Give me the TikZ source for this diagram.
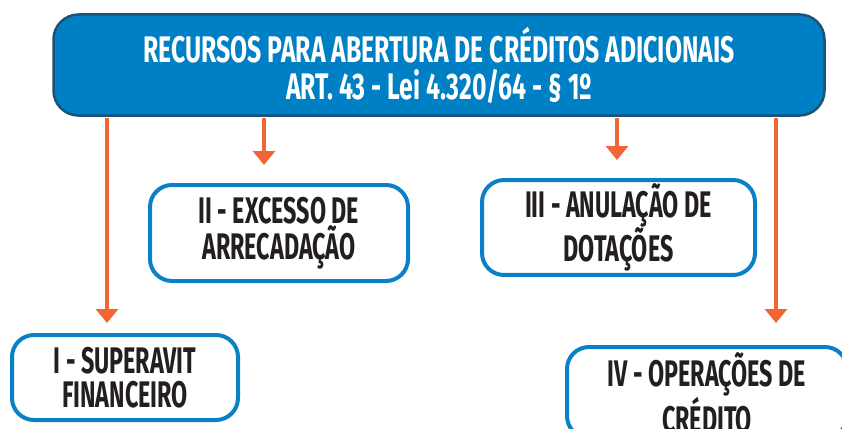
\documentclass[tikz,border=0pt]{standalone}
\usepackage{fontspec}
\newfontfamily\condfont[FakeStretch=0.63]{Fira Sans}
\newfontfamily\titlefont[FakeStretch=0.67]{Fira Sans}
\usepackage{tikz}
\usetikzlibrary{arrows.meta}
\definecolor{titleblue}{HTML}{0080C4}
\definecolor{titleborder}{HTML}{1B5275}
\definecolor{itemborder}{HTML}{0A80C6}
\definecolor{itemtext}{HTML}{231F20}
\definecolor{arroworange}{HTML}{F26535}

\begin{document}
\begin{tikzpicture}[->,>={Triangle[width=22pt,length=14pt]},node distance=165pt,
    font=\condfont\bfseries\fontsize{37}{34}\selectfont]
      \tikzstyle{arrow line} = [draw=arroworange, line width=3.5pt, shorten <=1.2pt]
      \tikzstyle{title box} = [rectangle, rounded corners=25pt, draw=titleborder, line width=2.5pt,
         fill=titleblue, text=white, minimum width=771pt, minimum height=101pt, align=center,
         font=\titlefont\bfseries\fontsize{37}{37}\selectfont]
      \tikzstyle{item box} = [rectangle, rounded corners=22pt, draw=itemborder, line width=4pt,
         fill=white, text=itemtext, align=center]
      \useasboundingbox (0,0) rectangle (842pt,-428pt);
      \clip (0,0) rectangle (842pt,-428pt);
      %nodes
      \node[title box] (recursos) at (439pt,-65pt) {RECURSOS PARA ABERTURA DE CRÉDITOS ADICIONAIS\\ART. 43 - Lei 4.320/64 - § 1º};
      \node[item box, minimum width=226pt, minimum height=85pt] (superavit) [below of=recursos, xshift=-314pt, yshift=-147.5pt] {I - SUPERAVIT\\FINANCEIRO};
      \node[item box, minimum width=258pt, minimum height=96pt] (excesso) [below of=recursos, xshift=-160pt, yshift=-3pt] {II - EXCESSO DE\\ARRECADAÇÃO};
      \node[item box, minimum width=273pt, minimum height=85pt] (anulacao) [below of=recursos, xshift=179.5pt, yshift=2.5pt] {III - ANULAÇÃO DE\\DOTAÇÕES};
      \node[item box, minimum width=280pt, minimum height=91pt] (operacoes) [below of=recursos, xshift=268pt, yshift=-162.5pt] {IV - OPERAÇÕES DE\\CRÉDITO};
      %arrows
      \coordinate (a1) at (107pt,0);
      \coordinate (a2) at (264pt,0);
      \coordinate (a3) at (617pt,0);
      \coordinate (a4) at (776pt,0);
      \draw[arrow line, shorten >=10pt] (recursos.south -| a1) -- (superavit.north -| a1);
      \draw[arrow line, shorten >=18pt] (recursos.south -| a2) -- (excesso.north -| a2);
      \draw[arrow line, shorten >=18pt] (recursos.south -| a3) -- (anulacao.north -| a3);
      \draw[arrow line, shorten >=22pt] (recursos.south -| a4) -- (operacoes.north -| a4);
\end{tikzpicture}
\end{document}
